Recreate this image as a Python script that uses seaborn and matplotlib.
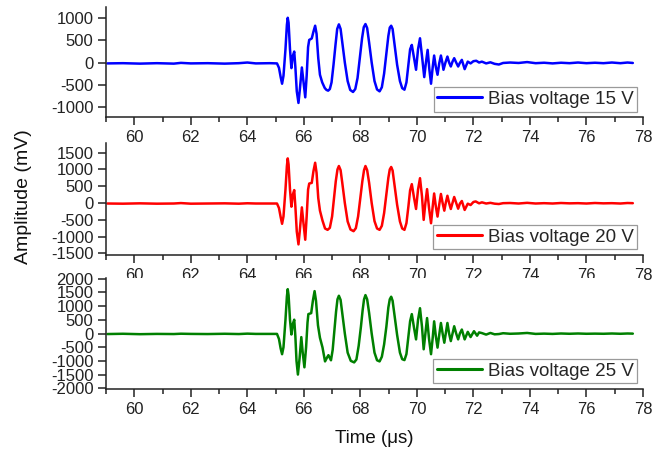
import numpy as np
import pandas as pd
import matplotlib
matplotlib.use("Agg")
import matplotlib.pyplot as plt
import seaborn as sns
from matplotlib.ticker import MultipleLocator

# ---------------- data ----------------
base_t = [59.05, 59.6, 60.2, 60.8, 61.4, 61.65, 62.0, 62.6, 63.2, 63.7, 64.0, 64.3, 64.8]
base15 = [-20, -15, -25, -15, -25, -8, -20, -15, -25, -15, 0, -20, -15]
base20 = [-15, -20, -10, -20, -15, -2, -20, -15, -10, -20, -8, -15, -15]
base25 = [-20, -10, -25, -15, -20, -8, -15, -20, -10, -20, -5, -15, -15]

tail_t = [72.3, 72.45, 72.6, 72.75, 72.9, 73.05, 73.3, 73.6, 73.9, 74.2, 74.5, 74.8,
          75.1, 75.4, 75.7, 76.0, 76.3, 76.6, 76.9, 77.2, 77.45, 77.64]
tail15 = [20, -20, 5, -30, -45, -10, 0, -10, 10, -15, -5, -20, -5, -15, 0, -15, -5, -15, 0, -15, 0, -10]
tail20 = [20, -15, 5, -20, -30, -5, 0, -15, 5, -15, -5, -15, 0, -10, -5, -15, 0, -10, -5, -15, 0, -5]
tail25 = [15, -40, 20, -30, -20, 10, -10, 0, 20, -15, -5, -15, 0, -10, 0, -10, -5, -10, 0, -10, 0, -5]

sig15_t = [65.05, 65.12, 65.18, 65.23, 65.28, 65.35, 65.40, 65.43, 65.46, 65.51, 65.56, 65.61, 65.66,
           65.70, 65.75, 65.81, 65.86, 65.93, 65.98, 66.05, 66.10, 66.15, 66.19, 66.28, 66.34, 66.40,
           66.45, 66.51, 66.57, 66.65, 66.74, 66.80, 66.86, 66.92, 66.98, 67.05, 67.12, 67.18, 67.24,
           67.30, 67.36, 67.45, 67.55, 67.64, 67.74, 67.82, 67.90, 67.98, 68.06, 68.12, 68.18, 68.24,
           68.31, 68.40, 68.50, 68.59, 68.68, 68.76, 68.84, 68.92, 68.99, 69.04, 69.09, 69.14, 69.21,
           69.30, 69.40, 69.48, 69.56, 69.63, 69.70, 69.76, 69.82, 69.90, 69.97, 70.04, 70.11, 70.18,
           70.26, 70.32, 70.38, 70.44, 70.50, 70.56, 70.61, 70.67, 70.73, 70.79, 70.85, 70.90, 70.94,
           71.01, 71.08, 71.14, 71.20, 71.26, 71.32, 71.39, 71.46, 71.52, 71.59, 71.69, 71.80, 71.90,
           72.0, 72.1, 72.2]
sig15_v = [-20, -120, -330, -480, -300, 300, 850, 1013, 900, 300, -127, 150, 248,
           -100, -650, -915, -600, -112, -400, -788, -300, 350, 511, 545, 700, 833,
           650, 100, -277, -450, -577, -620, -637, -600, -450, -50, 400, 760, 864,
           760, 450, 0, -420, -620, -667, -600, -350, 100, 550, 800, 871, 780,
           450, 0, -420, -610, -653, -560, -250, 200, 600, 790, 833, 760, 400,
           -50, -420, -580, -615, -450, -50, 300, 398, 100, -164, 300, 549, 150,
           -330, 0, 286, -150, -480, -100, 158, -100, -277, -20, 158, 0, -164,
           0, 135, 0, -90, 20, 98, 0, -90, -10, 60, -150, 20, -20,
           30, 40, 0]

sig20_t = [65.05, 65.12, 65.18, 65.23, 65.28, 65.35, 65.40, 65.43, 65.46, 65.51, 65.56, 65.61, 65.66,
           65.70, 65.75, 65.81, 65.86, 65.93, 65.98, 66.05, 66.10, 66.15, 66.19, 66.28, 66.34, 66.40,
           66.45, 66.51, 66.57, 66.66, 66.75, 66.84, 66.92, 67.0, 67.07, 67.13, 67.19, 67.24, 67.30,
           67.36, 67.45, 67.55, 67.65, 67.76, 67.84, 67.92, 68.0, 68.07, 68.13, 68.18, 68.24, 68.31,
           68.40, 68.50, 68.59, 68.68, 68.76, 68.84, 68.92, 68.99, 69.04, 69.09, 69.14, 69.21, 69.30,
           69.40, 69.48, 69.56, 69.63, 69.70, 69.76, 69.82, 69.90, 69.97, 70.04, 70.11, 70.18,
           70.24, 70.30, 70.36, 70.43, 70.50, 70.56, 70.61, 70.67, 70.73, 70.79, 70.85, 70.91, 70.97,
           71.02, 71.08, 71.14, 71.20, 71.26, 71.32, 71.39, 71.46, 71.52, 71.59, 71.69, 71.80, 71.90,
           72.0, 72.08, 72.2]
sig20_v = [-15, -150, -420, -620, -400, 400, 1100, 1330, 1150, 400, -110, 250, 385,
           -100, -850, -1234, -800, -130, -550, -1095, -400, 400, 580, 600, 950, 1200,
           900, 150, -228, -524, -760, -800, -740, -400, 150, 650, 1000, 1103, 980,
           600, 0, -550, -790, -840, -750, -400, 150, 650, 980, 1103, 980, 600,
           0, -540, -760, -800, -680, -300, 250, 750, 1000, 1074, 970, 520, -50,
           -550, -760, -800, -600, -100, 380, 562, 150, -178, 400, 740, 200,
           -503, 0, 414, -150, -603, -100, 284, -100, -405, -50, 270, 0, -228,
           0, 216, 0, -178, 0, 180, 0, -170, -20, 60, -207, -20, -60,
           30, 47, -10]

sig25_t = [65.05, 65.12, 65.18, 65.23, 65.28, 65.35, 65.40, 65.43, 65.46, 65.51, 65.56, 65.61, 65.66,
           65.70, 65.74, 65.79, 65.85, 65.91, 65.96, 66.02, 66.08, 66.13, 66.16, 66.26, 66.32, 66.38,
           66.43, 66.50, 66.57, 66.66, 66.75, 66.82, 66.87, 66.96, 67.02, 67.08, 67.14, 67.19, 67.24,
           67.30, 67.36, 67.45, 67.55, 67.66, 67.78, 67.86, 67.94, 68.02, 68.08, 68.13, 68.18, 68.24,
           68.31, 68.40, 68.50, 68.59, 68.68, 68.76, 68.84, 68.92, 68.99, 69.04, 69.09, 69.14, 69.21,
           69.30, 69.40, 69.48, 69.56, 69.63, 69.70, 69.76, 69.82, 69.90, 69.97, 70.04, 70.11,
           70.18, 70.24, 70.30, 70.36, 70.43, 70.50, 70.56, 70.61, 70.67, 70.73, 70.79, 70.85, 70.91,
           70.97, 71.02, 71.08, 71.14, 71.20, 71.26, 71.32, 71.39, 71.46, 71.52, 71.59, 71.69, 71.80,
           71.90, 72.02, 72.13, 72.2]
sig25_v = [-15, -200, -550, -757, -500, 500, 1350, 1622, 1400, 500, -36, 350, 505,
           -100, -1000, -1502, -900, -132, -700, -1237, -500, 400, 709, 745, 1200, 1550,
           1200, 300, -156, -510, -1021, -880, -793, -980, -600, 100, 800, 1250, 1381,
           1230, 750, 0, -700, -1000, -1057, -950, -450, 250, 850, 1250, 1405, 1250,
           750, 0, -700, -980, -1021, -850, -400, 250, 950, 1250, 1345, 1200, 650,
           -50, -700, -940, -973, -750, -100, 450, 709, 200, -216, 500, 925,
           250, -577, 0, 565, -200, -757, -150, 445, -100, -517, -50, 385, 0,
           -337, 0, 385, 0, -277, 0, 265, 0, -216, 0, 145, -216, 60,
           -130, 84, -80, 40]

labels = ["Bias voltage 15 V", "Bias voltage 20 V", "Bias voltage 25 V"]
colors = ["#0000FF", "#FF0000", "#008000"]
ylims = [(-1240, 1250), (-1550, 1780), (-2030, 2030)]
yticks = [[-1000, -500, 0, 500, 1000],
          [-1500, -1000, -500, 0, 500, 1000, 1500],
          [-2000, -1500, -1000, -500, 0, 500, 1000, 1500, 2000]]
xticks = [60, 62, 64, 66, 68, 70, 72, 74, 76, 78]

series = [
    (base_t + sig15_t + tail_t, base15 + sig15_v + tail15),
    (base_t + sig20_t + tail_t, base20 + sig20_v + tail20),
    (base_t + sig25_t + tail_t, base25 + sig25_v + tail25),
]

# ---------------- style ----------------
sns.set_style("ticks")
plt.rcParams["font.family"] = ["Liberation Sans", "DejaVu Sans"]
plt.rcParams["axes.linewidth"] = 1.1
plt.rcParams["axes.unicode_minus"] = False

fig = plt.figure(figsize=(6.54, 4.55), dpi=100)
L, W = 106 / 654, 537 / 654
boxes = [(1 - 117.3 / 455, 110 / 455),
         (1 - 255 / 455, 111.7 / 455),
         (1 - 389 / 455, 111 / 455)]

for i, ((t, v), lab, col, yl, yt, (b, h)) in enumerate(zip(series, labels, colors, ylims, yticks, boxes)):
    ax = fig.add_axes([L, b, W, h])
    df = pd.DataFrame({"t": t, "v": v})
    sns.lineplot(data=df, x="t", y="v", ax=ax, color=col, lw=1.8, label=lab,
                 estimator=None, sort=False)
    for ln in ax.get_lines():
        ln.set_solid_joinstyle("round")
    ax.set_xlim(59, 78)
    ax.set_ylim(*yl)
    ax.set_xticks(xticks)
    ax.xaxis.set_minor_locator(MultipleLocator(1))
    ax.set_yticks(yt)
    ax.set_xlabel("")
    ax.set_ylabel("")
    for s in ["top", "right"]:
        ax.spines[s].set_visible(False)
    for s in ["left", "bottom"]:
        ax.spines[s].set_color("#222222")
    ax.tick_params(axis="both", which="major", direction="out", length=6, width=1.1,
                   labelsize=12, colors="#222222", pad=3)
    ax.tick_params(axis="x", which="minor", direction="out", length=3.5, width=1.1, colors="#222222")
    leg = ax.legend(loc="lower right", frameon=True, fancybox=False, edgecolor="#9a9a9a",
                    framealpha=1, fontsize=13.5, handlelength=2.4, handletextpad=0.3,
                    borderpad=0.2, borderaxespad=0.3)
    leg.get_frame().set_linewidth(0.9)
    for lh in leg.get_lines():
        lh.set_linewidth(2.2)

fig.text(0.036, 0.567, "Amplitude (mV)", rotation=90, ha="center", va="center",
         fontsize=14, color="#111111")
fig.text((106 + 643) / 2 / 654, 0.037, "Time (\u03bcs)", ha="center", va="center",
         fontsize=13.5, color="#111111")

fig.savefig("out.png", dpi=100)
